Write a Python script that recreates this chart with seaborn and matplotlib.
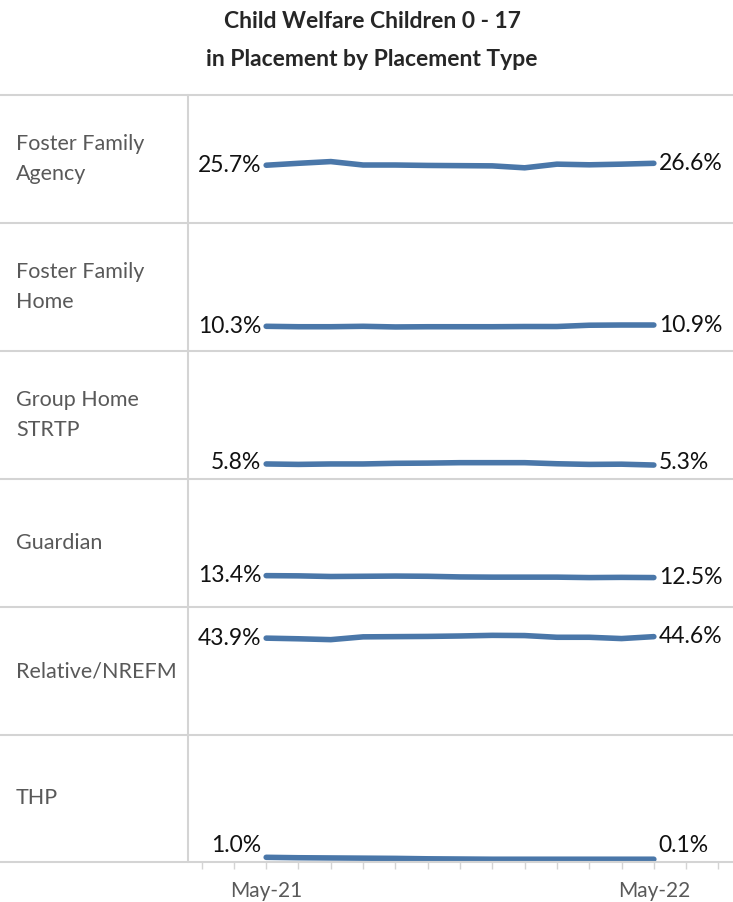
import pandas as pd
import seaborn as sns
import matplotlib.pyplot as plt
from matplotlib.lines import Line2D

## data ##
months = ["May-21", "Jun-21", "Jul-21", "Aug-21", "Sep-21", "Oct-21", "Nov-21",
          "Dec-21", "Jan-22", "Feb-22", "Mar-22", "Apr-22", "May-22"]
placement_types = ["Foster Family\nAgency", "Foster Family\nHome", "Group Home\nSTRTP",
                   "Guardian", "Relative/NREFM", "THP"]
foster_agency = [25.7, 26.6, 27.4, 25.8, 25.8, 25.6, 25.5, 25.4, 24.5, 26.2, 25.9, 26.2, 26.6]
foster_home = [10.3, 10.1, 10.1, 10.3, 10.0, 10.1, 10.1, 10.1, 10.2, 10.2, 10.8, 10.9, 10.9]
group_home = [5.8, 5.6, 5.8, 5.8, 6.1, 6.2, 6.4, 6.4, 6.4, 5.9, 5.6, 5.7, 5.3]
guardian = [13.4, 13.3, 13.0, 13.1, 13.2, 13.1, 12.8, 12.7, 12.7, 12.7, 12.5, 12.6, 12.5]
relative = [43.9, 43.6, 43.2, 44.5, 44.6, 44.7, 44.9, 45.2, 45.1, 44.3, 44.3, 43.7, 44.6]
thp = [1.0, 0.8, 0.7, 0.6, 0.5, 0.3, 0.2, 0.1, 0.1, 0.1, 0.1, 0.1, 0.1]
first_labels = ["25.7%", "10.3%", "5.8%", "13.4%", "43.9%", "1.0%"]
last_labels = ["26.6%", "10.9%", "5.3%", "12.5%", "44.6%", "0.1%"]

series = [foster_agency, foster_home, group_home, guardian, relative, thp]
df = pd.concat([pd.DataFrame({"type": t, "idx": range(len(months)), "pct": v})
                for t, v in zip(placement_types, series)])

## style ##
sns.set_theme(style="white")
plt.rcParams["font.family"] = ["Lato", "DejaVu Sans"]
line_col = "#4a77a9"
grid_col = "#d4d4d4"
grey_txt = "#595959"

W, H = 733, 902
fig = plt.figure(figsize=(W / 100, H / 100), dpi=100)

# panel edges in pixels
left_px = 188
tops = [95, 223, 351, 479, 607, 735]
bottom_px = 862

fig.text(372 / W, 1 - 22 / H, "Child Welfare Children 0 - 17", ha="center", va="center",
         fontsize=16.5, fontweight="bold", color="#262626")
fig.text(372 / W, 1 - 60 / H, "in Placement by Placement Type", ha="center", va="center",
         fontsize=16.5, fontweight="bold", color="#262626")

axes = []
for i, t in enumerate(placement_types):
    top = tops[i]
    bot = tops[i + 1] if i + 1 < len(tops) else bottom_px
    ax = fig.add_axes([left_px / W, 1 - bot / H, (W - left_px) / W, (bot - top) / H])
    sub = df[df["type"] == t]
    sns.lineplot(data=sub, x="idx", y="pct", ax=ax, color=line_col, lw=4,
                 solid_capstyle="round")
    ax.set_xlim(-2.42, 14.45)
    ax.set_ylim(-1.2, 58.4)
    ax.set_xlabel("")
    ax.set_ylabel("")
    ax.set_yticks([])
    for s in ax.spines.values():
        s.set_visible(False)
    ax.patch.set_alpha(0)

    # end labels
    vals = sub["pct"].to_numpy()
    ax.text(-0.15, max(vals[0], 6.6), first_labels[i], ha="right", va="center",
            fontsize=16.5, color="#111111")
    ax.text(len(months) - 1 + 0.15, max(vals[-1], 6.6), last_labels[i], ha="left",
            va="center", fontsize=16.5, color="#111111")

    # row label
    fig.text(16 / W, 1 - (top + bot) / 2 / H, t, ha="left", va="center",
             fontsize=15.5, color=grey_txt, linespacing=1.67)
    axes.append(ax)

# x axis only on the bottom panel
for ax in axes[:-1]:
    ax.set_xticks([])
ax = axes[-1]
ax.set_xticks(range(-2, 15))
ax.set_xticklabels(["" if k not in (0, 12) else months[k] for k in range(-2, 15)])
ax.tick_params(axis="x", bottom=True, length=5, width=1, color=grid_col, pad=9,
               labelsize=15, labelcolor=grey_txt)

# table style grid lines
for y in tops + [bottom_px]:
    fig.add_artist(Line2D([0, 1], [1 - y / H, 1 - y / H], color=grid_col, lw=1.5))
fig.add_artist(Line2D([left_px / W, left_px / W], [1 - tops[0] / H, 1 - bottom_px / H],
                      color=grid_col, lw=1.5))

fig.savefig("out.png", dpi=100)
